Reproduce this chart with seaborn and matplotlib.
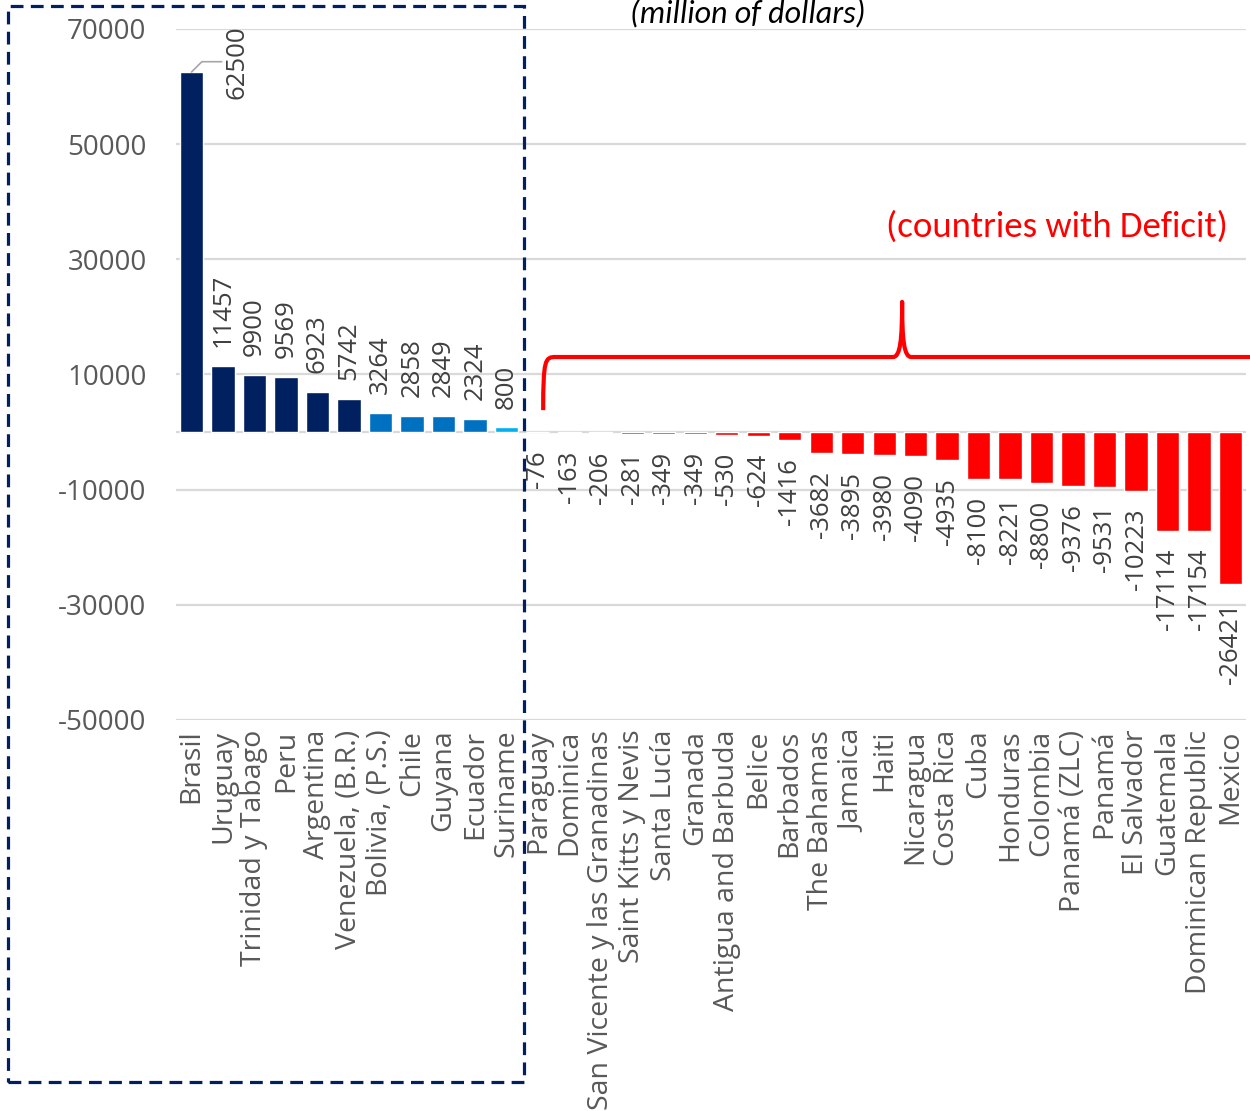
import matplotlib
matplotlib.use("Agg")
import matplotlib.pyplot as plt
from matplotlib.path import Path
from matplotlib.patches import PathPatch, Rectangle
import seaborn as sns
import pandas as pd

# Trade balance by country (million of dollars)
countries = [
    "Brasil", "Uruguay", "Trinidad y Tabago", "Peru", "Argentina",
    "Venezuela, (B.R.)", "Bolivia, (P.S.)", "Chile", "Guyana", "Ecuador",
    "Suriname", "Paraguay", "Dominica", "San Vicente y las Granadinas",
    "Saint Kitts y Nevis", "Santa Lucía", "Granada", "Antigua and Barbuda",
    "Belice", "Barbados", "The Bahamas", "Jamaica", "Haiti", "Nicaragua",
    "Costa Rica", "Cuba", "Honduras", "Colombia", "Panamá (ZLC)", "Panamá",
    "El Salvador", "Guatemala", "Dominican Republic", "Mexico",
]
balance = [
    62500, 11457, 9900, 9569, 6923, 5742, 3264, 2858, 2849, 2324, 800,
    -76, -163, -206, -281, -349, -349, -530, -624, -1416, -3682, -3895,
    -3980, -4090, -4935, -8100, -8221, -8800, -9376, -9531, -10223,
    -17114, -17154, -26421,
]
y_ticks = [-50000, -30000, -10000, 10000, 30000, 50000, 70000]
subtitle = "(million of dollars)"
deficit_note = "(countries with Deficit)"

NAVY, BLUE, SKY, RED = "#002060", "#0070C0", "#00B0F0", "#FF0000"


def bar_color(v):
    if v >= 5000:
        return NAVY
    if v >= 1000:
        return BLUE
    if v >= 0:
        return SKY
    return RED


df = pd.DataFrame({"country": countries, "balance": balance})
palette = {c: bar_color(v) for c, v in zip(countries, balance)}

sns.set_theme(style="white")
plt.rcParams["font.family"] = ["Open Sans", "DejaVu Sans"]
CALIBRI = ["Carlito", "Lato", "DejaVu Sans"]

fig = plt.figure(figsize=(12.5, 11.11), dpi=100)
ax = fig.add_axes([0.1406, 0.352, 0.8564, 0.622])

sns.barplot(data=df, x="country", y="balance", hue="country",
            palette=palette, legend=False, width=0.74, saturation=1,
            ax=ax, zorder=3)

ax.set_xlim(-0.5, len(countries) - 0.5)
ax.set_ylim(-50000, 70000)
ax.set_yticks(y_ticks)
ax.set_yticklabels([str(t) for t in y_ticks])
ax.set_xlabel("")
ax.set_ylabel("")
for s in ax.spines.values():
    s.set_visible(False)
ax.grid(False)
for t in y_ticks:
    ax.axhline(t, color="#D9D9D9", lw=1.6, zorder=1)
ax.axhline(0, color="#D9D9D9", lw=1.6, zorder=1)

ax.tick_params(axis="y", length=0, pad=21, labelsize=20, labelcolor="#595959")
ax.tick_params(axis="x", length=0, pad=7, labelsize=20.5, labelcolor="#595959",
               labelrotation=90)

# value labels
for i, v in enumerate(balance):
    if i == 0:
        ax.annotate(str(v), xy=(0.0, v), xytext=(1.46, 64300),
                    textcoords="data", rotation=90, ha="center", va="center",
                    fontsize=18.5, color="#404040", zorder=5,
                    arrowprops=dict(arrowstyle="-", color="#A6A6A6", lw=1.2,
                                    connectionstyle="angle,angleA=0,angleB=45,rad=0",
                                    shrinkA=0, shrinkB=0,
                                    relpos=(0.0, 0.5)))
        continue
    if v >= 0:
        ax.annotate(str(v), xy=(i, v), xytext=(0, 13.5), textcoords="offset points",
                    rotation=90, ha="center", va="bottom", fontsize=18.5,
                    color="#404040")
    else:
        ax.annotate(str(v), xy=(i, v), xytext=(0, -13), textcoords="offset points",
                    rotation=90, ha="center", va="top", fontsize=18.5,
                    color="#404040")

# brace over the deficit group
verts = [
    (11.17, 3800), (11.17, 12500), (11.23, 13020), (11.55, 13020),
    (22.28, 13020),
    (22.51, 13020), (22.57, 15970), (22.57, 22600),
    (22.57, 15970), (22.63, 13020), (22.86, 13020),
    (33.62, 13020),
]
codes = [Path.MOVETO, Path.CURVE4, Path.CURVE4, Path.CURVE4,
         Path.LINETO,
         Path.CURVE4, Path.CURVE4, Path.CURVE4,
         Path.CURVE4, Path.CURVE4, Path.CURVE4,
         Path.LINETO]
brace = PathPatch(Path(verts, codes), facecolor="none", edgecolor=RED, lw=3,
                  capstyle="butt", joinstyle="round", clip_on=False, zorder=4)
ax.add_patch(brace)

ax.text(27.49, 35600, deficit_note, color=RED, fontsize=26.5, ha="center",
        va="center", family=CALIBRI)

fig.text(748 / 1250, 1 - 22 / 1111, subtitle, ha="center", va="baseline",
         fontsize=23, style="italic", color="#000000", family=CALIBRI)

# dashed frame around the surplus group
frame = Rectangle((8 / 1250, 1 - 1082 / 1111), (524 - 8) / 1250,
                  (1082 - 6) / 1111, transform=fig.transFigure, fill=False,
                  edgecolor=NAVY, lw=2.3, linestyle=(0, (4, 2.3)), zorder=10)
fig.add_artist(frame)

fig.savefig("out.png", dpi=100)
